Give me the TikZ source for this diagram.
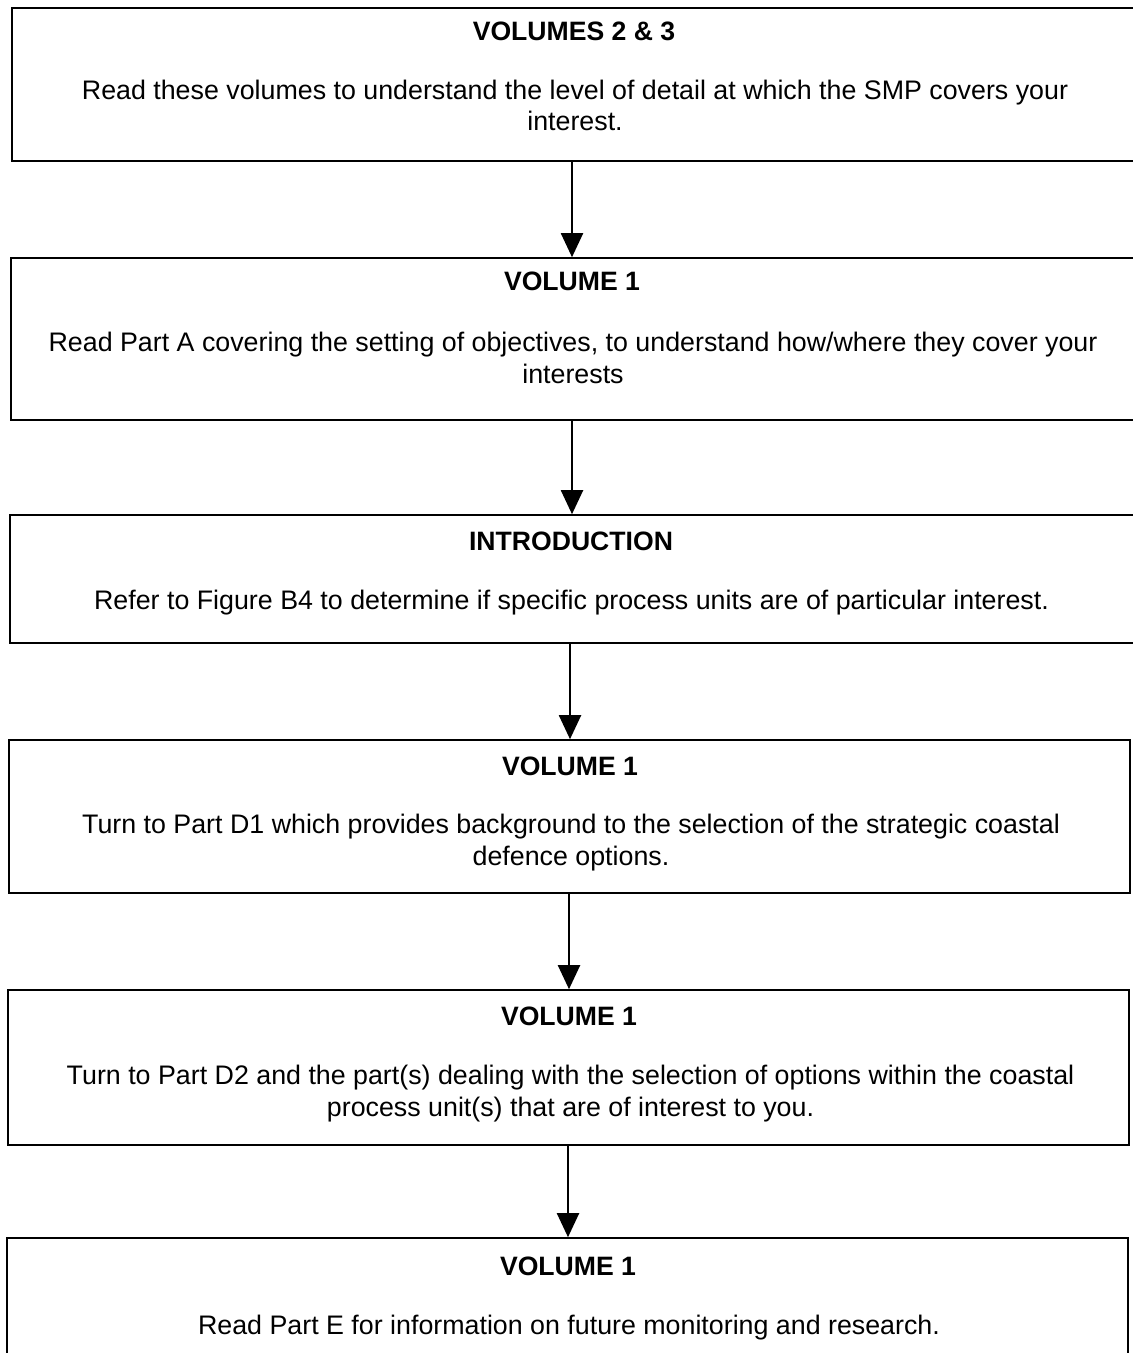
\documentclass[tikz,border=0pt]{standalone}
\usepackage{fontspec}
\setmainfont{Liberation Sans}
\usetikzlibrary{arrows.meta,positioning}

\tikzset{
  stepframe/.style={draw, line width=0.8pt, inner sep=0pt},
  headtext/.style={font=\fontsize{13.3}{15.75}\selectfont\bfseries, anchor=base, inner sep=0pt},
  bodytext/.style={font=\fontsize{13.4}{15.75}\selectfont, align=center, anchor=base, inner sep=0pt},
  flowarrow/.style={line width=1pt, -{Triangle[width=11pt,length=12pt]}}
}

\begin{document}
\begin{tikzpicture}[x=0.5pt,y=-0.5pt]
  \useasboundingbox (0,0) rectangle (1132,1353);

  % frames of the six reading steps
  \node[stepframe, minimum width=564pt, minimum height=76.5pt] (b1) at (576,84.5) {};
  \node[stepframe, minimum width=564.5pt, minimum height=81pt] (b2) at (575.5,339) {};
  \node[stepframe, minimum width=565pt, minimum height=64pt] (b3) at (575,579) {};
  \node[stepframe, minimum width=560.5pt, minimum height=76.5pt] (b4) at (569.5,816.5) {};
  \node[stepframe, minimum width=560.5pt, minimum height=77.5pt] (b5) at (568.5,1067.5) {};
  \node[stepframe, minimum width=560.5pt, minimum height=66pt] (b6) at (567.5,1304) {};

  % headings
  \node[headtext] (h1) at (574,41) {VOLUMES 2 \& 3};
  \node[headtext] (h2) at (572,291) {VOLUME 1};
  \node[headtext] (h3) at (571,550) {INTRODUCTION};
  \node[headtext] (h4) at (570,775) {VOLUME 1};
  \node[headtext] (h5) at (569,1025) {VOLUME 1};
  \node[headtext] (h6) at (568,1275) {VOLUME 1};

  % texts (base = last line)
  \node[bodytext] (t1) at (575,131) {Read these volumes to understand the level of detail at which the SMP covers your\\interest.};
  \node[bodytext] (t2) at (573,383) {Read Part A covering the setting of objectives, to understand how/where they cover your\\interests};
  \node[bodytext] (t3) at (571.5,609) {Refer to Figure B4 to determine if specific process units are of particular interest.};
  \node[bodytext] (t4) at (571,865) {Turn to Part D1 which provides background to the selection of the strategic coastal\\defence options.};
  \node[bodytext] (t5) at (570.5,1116) {Turn to Part D2 and the part(s) dealing with the selection of options within the coastal\\process unit(s) that are of interest to you.};
  \node[bodytext] (t6) at (569,1334) {Read Part E for information on future monitoring and research.};

  % arrows between the steps
  \draw[flowarrow] (h2 |- b1.south) -- (h2 |- b2.north);
  \draw[flowarrow] (h2 |- b2.south) -- (h2 |- b3.north);
  \draw[flowarrow] (h4 |- b3.south) -- (h4 |- b4.north);
  \draw[flowarrow] (h5 |- b4.south) -- (h5 |- b5.north);
  \draw[flowarrow] (h6 |- b5.south) -- (h6 |- b6.north);
\end{tikzpicture}
\end{document}
